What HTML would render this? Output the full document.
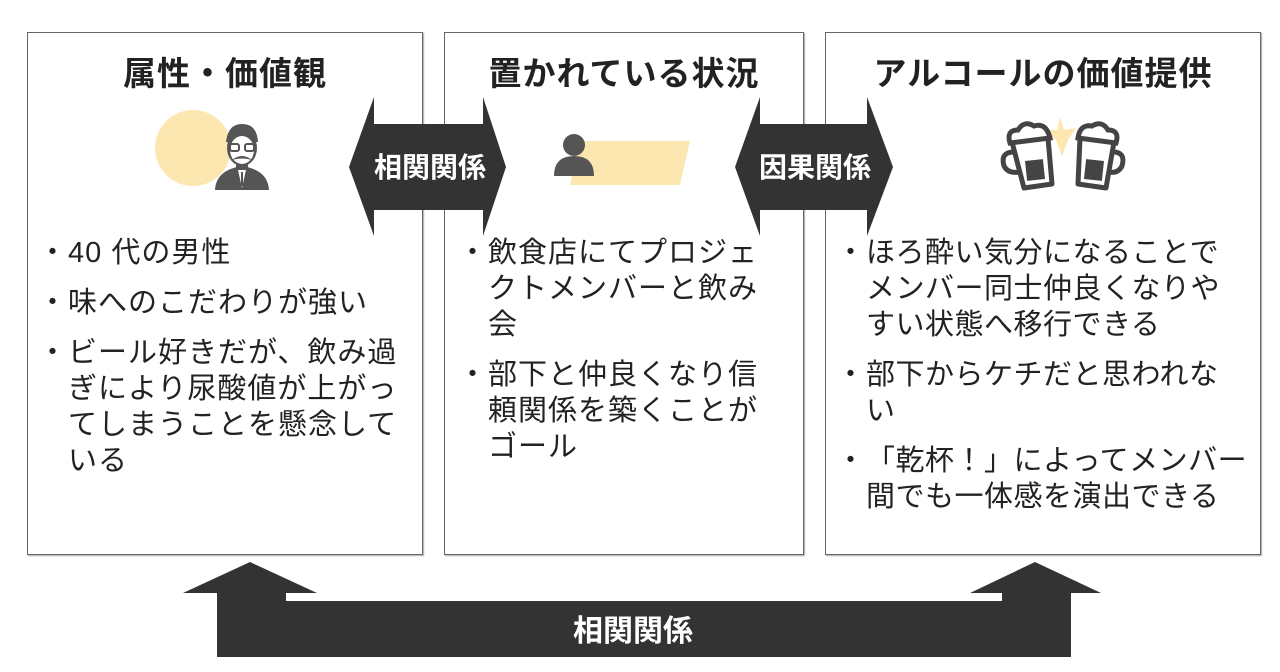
<!DOCTYPE html>
<html><head><meta charset="utf-8"><style>
html,body{margin:0;padding:0;background:#fff;width:1280px;height:672px;overflow:hidden;position:relative;font-family:"Liberation Sans","Noto Sans CJK JP",sans-serif;color:#222}
.box{position:absolute;top:32px;height:523px;border:1px solid #666;box-sizing:border-box;background:#fff;box-shadow:1px 1px 1px #aaa}
.t{position:absolute;top:52px;font-size:33px;line-height:44px;letter-spacing:1px;font-weight:bold;text-align:center;white-space:nowrap}
.list{position:absolute;font-size:29px;letter-spacing:1px;line-height:36px;white-space:nowrap}
.list .i{position:relative;padding-left:20px;margin-bottom:14px}
.list .i:before{content:"・";position:absolute;left:-10px;top:0}
svg{position:absolute;left:0;top:0}
</style></head><body>
<div class="box" style="left:27px;width:396px"></div>
<div class="box" style="left:444px;width:360px"></div>
<div class="box" style="left:825px;width:436px"></div>
<div class="t" style="left:27px;width:396px">属性・価値観</div>
<div class="t" style="left:444px;width:360px">置かれている状況</div>
<div class="t" style="left:825px;width:436px">アルコールの価値提供</div>

<svg width="1280" height="672">
 <polygon points="349,167 374,97 374,124 483,124 483,97 506,167 483,236 483,210 374,210 374,236" fill="#333"/>
 <polygon points="735,167 760,97 760,124 867,124 867,97 893,167 867,236 867,210 760,210 760,236" fill="#333"/>
 <polygon points="250,562 317,593 286,593 286,601 1002,601 1002,593 970,593 1035,562 1101,593 1071,593 1071,657 217,657 217,593 183,593" fill="#333"/>
 <text x="430" y="177" fill="#fff" font-size="28" font-weight="bold" text-anchor="middle" font-family="Noto Sans CJK JP">相関関係</text>
 <text x="815" y="177" fill="#fff" font-size="28" font-weight="bold" text-anchor="middle" font-family="Noto Sans CJK JP">因果関係</text>
 <text x="633" y="641" fill="#fff" font-size="30" font-weight="bold" text-anchor="middle" font-family="Noto Sans CJK JP">相関関係</text>
 <circle cx="193" cy="148" r="38" fill="#fde7b0"/>
 <path d="M215,190 Q216,170 242,166 Q268,170 269,190 Z" fill="#555"/>
 <rect x="236" y="158" width="12" height="12" fill="#555"/>
 <ellipse cx="242" cy="148" rx="15" ry="18" fill="#555"/>
 <path d="M226,142 Q228,124 242,124 Q257,124 258,142 Z" fill="#555"/>
 <ellipse cx="242" cy="150" rx="12" ry="14" fill="#fff"/>
 <rect x="230" y="144" width="9" height="7" rx="2" fill="none" stroke="#555" stroke-width="2"/>
 <rect x="245" y="144" width="9" height="7" rx="2" fill="none" stroke="#555" stroke-width="2"/>
 <path d="M232,160 Q242,152 252,160 Q242,157 232,160Z" fill="#555"/>
 <polygon points="238,170 246,170 242,188" fill="#fff"/>
 <line x1="242" y1="172" x2="242" y2="186" stroke="#555" stroke-width="2"/>
 <polygon points="580,141 690,141 680,185 570,185" fill="#fde7b0"/>
 <circle cx="574" cy="145" r="11" fill="#555"/>
 <path d="M554,176 Q554,156 574,156 Q594,156 594,176 Z" fill="#555"/>
 <polygon points="1060,117 1064,130 1076,128 1068,140 1062,156 1056,140 1045,130 1057,130" fill="#fde7b0"/>
 <g fill="none" stroke="#444" stroke-width="5" stroke-linejoin="round">
  <path d="M1012,142 L1048,138 L1052,184 L1024,188 Z"/>
  <path d="M1014,152 Q1000,152 1004,166 Q1008,174 1020,172"/>
  <path d="M1080,138 L1114,142 L1106,188 L1078,184 Z"/>
  <path d="M1113,152 Q1126,152 1122,166 Q1118,174 1108,172"/>
 </g>
 <rect x="1026" y="160" width="18" height="20" fill="#444" transform="rotate(-6 1035 170)"/>
 <rect x="1085" y="160" width="18" height="20" fill="#444" transform="rotate(6 1094 170)"/>
 <path d="M1010,143 Q1006,130 1018,130 Q1024,120 1034,126 Q1046,122 1050,138 Z" fill="#fff" stroke="#444" stroke-width="5"/>
 <path d="M1078,138 Q1080,124 1092,126 Q1102,120 1108,130 Q1120,130 1116,143 Z" fill="#fff" stroke="#444" stroke-width="5"/>
</svg>

<div class="list" style="left:48px;top:235px">
 <div class="i">40 代の男性</div>
 <div class="i">味へのこだわりが強い</div>
 <div class="i">ビール好きだが、飲み過<br>ぎにより尿酸値が上がっ<br>てしまうことを懸念して<br>いる</div>
</div>
<div class="list" style="left:468px;top:235px">
 <div class="i">飲食店にてプロジェ<br>クトメンバーと飲み<br>会</div>
 <div class="i">部下と仲良くなり信<br>頼関係を築くことが<br>ゴール</div>
</div>
<div class="list" style="left:846px;top:235px;letter-spacing:0.5px">
 <div class="i">ほろ酔い気分になることで<br>メンバー同士仲良くなりや<br>すい状態へ移行できる</div>
 <div class="i">部下からケチだと思われな<br>い</div>
 <div class="i">「乾杯！」によってメンバー<br>間でも一体感を演出できる</div>
</div>
</body></html>
